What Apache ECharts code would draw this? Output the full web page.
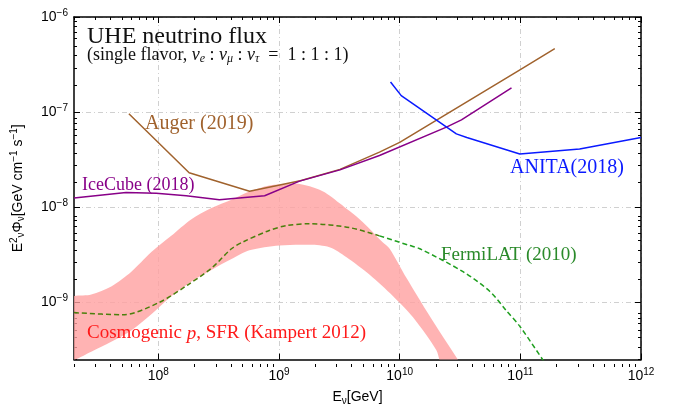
<!DOCTYPE html>
<html>
<head>
<meta charset="utf-8">
<script src="https://cdn.jsdelivr.net/npm/echarts@6/dist/echarts.min.js"></script>
<style>
html, body { margin: 0; padding: 0; background: #fff; }
#main { width: 679px; height: 411px; }
</style>
</head>
<body>
<div id="main"></div>
<script>
// values: [E (GeV), E^2 Phi (GeV cm^-2 s^-1)]
var auger = [[5.7e7, 9.6e-8], [1.8e8, 2.3e-8], [5.7e8, 1.47e-8], [1.5e9, 1.9e-8], [3.2e9, 2.5e-8],
	[6.8e9, 3.8e-8], [1e10, 4.8e-8], [1e11, 2.8e-7], [1.93e11, 4.65e-7]];
var iceCube = [[2e7, 1.25e-8], [5.4e7, 1.43e-8], [9.6e7, 1.4e-8], [1.7e8, 1.32e-8], [3.2e8, 1.2e-8],
	[7.6e8, 1.32e-8], [1.48e9, 1.88e-8], [3.2e9, 2.47e-8], [6.8e9, 3.5e-8], [2.44e10, 6.95e-8],
	[3.25e10, 8.3e-8], [8.45e10, 1.8e-7]];
var anita = [[8.4e9, 2.07e-7], [1.03e10, 1.49e-7], [2.95e10, 5.9e-8], [3.6e10, 5.4e-8], [9.9e10, 3.63e-8],
	[3.1e11, 4.1e-8], [1e12, 5.4e-8]];
var fermiLat = [[2e7, 7.8e-10], [5.06e7, 7.4e-10], [1.02e8, 1.0e-9], [1.76e8, 1.53e-9], [2.75e8, 2.28e-9],
	[4.04e8, 3.66e-9], [5e8, 4.3e-9], [8.3e8, 5.7e-9], [1.15e9, 6.4e-9], [1.79e9, 6.7e-9], [3.85e9, 6.1e-9],
	[6.8e9, 5.0e-9], [1.21e10, 3.96e-9], [1.47e10, 3.66e-9], [3.35e10, 2.1e-9], [5.6e10, 1.3e-9],
	[7.7e10, 8.1e-10], [1e11, 5.5e-10], [1.6e11, 2.3e-10]];
var fermiInBand = 6.8e9; // the dashed line leaves the pink band here
// cosmogenic band, upper and lower edges
var bandUpper = [[1.8e7, 1.08e-9], [2.78e7, 1.21e-9], [4.07e7, 1.47e-9], [5.97e7, 2.1e-9], [8.75e7, 3.38e-9],
	[1.28e8, 5.0e-9], [1.88e8, 7.47e-9], [2.75e8, 9.8e-9], [4.04e8, 1.2e-8], [5.69e8, 1.46e-8],
	[8.34e8, 1.69e-8], [1.22e9, 1.75e-8], [1.48e9, 1.75e-8], [2.17e9, 1.53e-8], [2.62e9, 1.33e-8],
	[3.18e9, 1.1e-8], [3.85e9, 9.1e-9], [4.93e9, 7.0e-9], [7.23e9, 4.28e-9], [8.26e9, 3.66e-9],
	[1.14e10, 1.8e-9], [1.67e10, 8.1e-10], [2.29e10, 4.33e-10], [3.05e10, 2.48e-10], [3.3e10, 2.0e-10]];
var bandLower = [[1.8e7, 2.5e-10], [2.78e7, 3.03e-10], [4.07e7, 3.84e-10], [5.97e7, 5.06e-10], [8.75e7, 7.5e-10],
	[1.28e8, 1.16e-9], [1.88e8, 1.66e-9], [2.75e8, 2.19e-9], [4.04e8, 2.85e-9], [5.69e8, 3.52e-9],
	[1.01e9, 3.96e-9], [1.79e9, 4.03e-9], [2.62e9, 3.8e-9], [3.6e9, 3.0e-9], [5.64e9, 1.95e-9],
	[8.82e9, 1.16e-9], [1.29e10, 6.95e-10], [2.01e10, 3.15e-10], [2.14e10, 2.47e-10], [2.3e10, 2.0e-10]];

var xTicks = [1e8, 1e9, 1e10, 1e11, 1e12];
var yTicks = [1e-9, 1e-8, 1e-7, 1e-6];
var xRange = [2e7, 1e12];
var yRange = [2.5e-10, 1e-6];

var serif = '"Liberation Serif", "DejaVu Serif", serif';
var sans = '"Liberation Sans", Arial, sans-serif';

// minor ticks at 2..9 of each decade
function minorTicks(range) {
	var out = [];
	for (var k = Math.floor(Math.log10(range[0])); k < Math.log10(range[1]); k++) {
		for (var m = 2; m <= 9; m++) {
			var v = m * Math.pow(10, k);
			if (v >= range[0] && v <= range[1]) out.push(v);
		}
	}
	return out;
}

function powLabel(v) {
	var e = Math.round(Math.log10(v));
	return '{b|10}{s|' + (e < 0 ? '\u2212' + (-e) : e) + '}';
}
var tickRich = {
	b: { fontFamily: sans, fontSize: 14, color: '#000', lineHeight: 18 },
	s: { fontFamily: sans, fontSize: 10, color: '#000', lineHeight: 10, padding: [0, 0, 8, 0] }
};
var gridLine = { show: true, lineStyle: { color: '#d0d0d0', width: 1, type: [5, 3, 1, 3] } };
var frame = { show: true, onZero: false, lineStyle: { color: '#000', width: 1.5 } };

function axis(dim, pos, gridIndex, ticks, len, main) {
	var a = {
		type: 'log',
		gridIndex: gridIndex,
		position: pos,
		min: dim == 'x' ? xRange[0] : yRange[0],
		max: dim == 'x' ? xRange[1] : yRange[1],
		axisLine: main ? frame : { show: false },
		axisTick: { show: true, inside: true, length: len, customValues: ticks, lineStyle: { color: '#000', width: 1 } },
		axisLabel: { show: false },
		splitLine: { show: false }
	};
	if (main && (pos == 'bottom' || pos == 'left')) {
		a.axisLabel = { show: true, customValues: ticks, formatter: powLabel, rich: tickRich, margin: dim == 'x' ? 8 : 6 };
		a.splitLine = gridLine;
	}
	return a;
}

var xMinor = minorTicks(xRange);
var yMinor = minorTicks(yRange);

var xAxes = [
	axis('x', 'bottom', 0, xTicks, 6, true),
	axis('x', 'top', 0, xTicks, 6, true),
	axis('x', 'bottom', 1, xMinor, 3, false),
	axis('x', 'top', 1, xMinor, 3, false)
];
var yAxes = [
	axis('y', 'left', 0, yTicks, 6, true),
	axis('y', 'right', 0, yTicks, 6, true),
	axis('y', 'left', 1, yMinor, 3, false),
	axis('y', 'right', 1, yMinor, 3, false)
];
xAxes[0].name = 'E{sub|\u03bd}[GeV]';
xAxes[0].nameLocation = 'middle';
xAxes[0].nameGap = 27;
xAxes[0].nameTextStyle = {
	fontFamily: sans, fontSize: 14, color: '#000',
	rich: { sub: { fontFamily: sans, fontSize: 10, color: '#000', padding: [7, 0, 0, 0] } }
};
yAxes[0].name = 'E{sup|2}{sub|\u03bd}\u03a6{sub|\u03bd}[GeV cm{sup|\u22121} s{sup|\u22121}]';
yAxes[0].nameLocation = 'middle';
yAxes[0].nameGap = 47;
yAxes[0].nameTextStyle = {
	fontFamily: sans, fontSize: 14, color: '#000',
	rich: {
		sup: { fontFamily: sans, fontSize: 10, color: '#000', padding: [0, 0, 8, 0] },
		sub: { fontFamily: sans, fontSize: 10, color: '#000', padding: [7, 0, 0, 0] }
	}
};

function lineSeries(name, data, color, z) {
	return {
		name: name, type: 'line', data: data, xAxisIndex: 0, yAxisIndex: 0,
		showSymbol: false, symbol: 'none', z: z,
		lineStyle: { color: color, width: 1.5 }
	};
}
function fermiSeries(data, color) {
	return {
		name: 'FermiLAT', type: 'line', data: data, showSymbol: false, symbol: 'none', smooth: 0.3, z: 3,
		lineStyle: { color: color, width: 1.5, type: [5, 3] }
	};
}

var grid = { left: 74, right: 38, top: 17, bottom: 44, containLabel: false };

var option = {
	animation: false,
	backgroundColor: '#fff',
	grid: [grid, grid],
	xAxis: xAxes,
	yAxis: yAxes,
	series: [
		{
			name: 'Cosmogenic', type: 'custom', data: bandUpper, z: 2,
			renderItem: function (params, api) {
				if (params.dataIndex !== 0) return;
				var pts = bandUpper.map(function (p) { return api.coord(p); })
					.concat(bandLower.slice().reverse().map(function (p) { return api.coord(p); }));
				var cs = params.coordSys;
				return {
					type: 'polygon',
					shape: { points: pts, smooth: 0.3 },
					style: { fill: 'rgba(255,160,160,0.8)' },
					clipPath: { type: 'rect', shape: { x: cs.x, y: cs.y, width: cs.width, height: cs.height } }
				};
			}
		},
		// the dashed line looks olive where it runs through the pink band
		fermiSeries(fermiLat.filter(function (p) { return p[0] <= fermiInBand; }), '#4b7f0c'),
		fermiSeries(fermiLat.filter(function (p) { return p[0] >= fermiInBand; }), '#1f9f1f'),
		lineSeries('Auger', auger, '#a0622d', 4),
		lineSeries('IceCube', iceCube, '#880088', 5),
		lineSeries('ANITA', anita, '#0a1aff', 5)
	],
	graphic: [
		{ type: 'text', z: 20, left: 87, top: 25, style: { text: 'UHE neutrino flux', font: '24px ' + serif, fill: '#111' } },
		{
			type: 'text', z: 20, left: 87, top: 46,
			style: {
				text: '(single flavor, {i|\u03bd}{sub|e} : {i|\u03bd}{sub|\u03bc} : {i|\u03bd}{sub|\u03c4}  =  1 : 1 : 1)',
				font: '18px ' + serif, fill: '#111',
				rich: {
					i: { fontFamily: serif, fontSize: 18, fontStyle: 'italic', fill: '#111' },
					sub: { fontFamily: serif, fontSize: 12, fontStyle: 'italic', fill: '#111', padding: [7, 0, 0, 0] }
				}
			}
		},
		{ type: 'text', z: 20, left: 145, top: 114, style: { text: 'Auger (2019)', font: '20px ' + serif, fill: '#a0622d' } },
		{ type: 'text', z: 20, left: 82, top: 176, style: { text: 'IceCube (2018)', font: '18px ' + serif, fill: '#880088' } },
		{ type: 'text', z: 20, left: 510, top: 158, style: { text: 'ANITA(2018)', font: '20px ' + serif, fill: '#0a1aff' } },
		{ type: 'text', z: 20, left: 441, top: 246, style: { text: 'FermiLAT (2010)', font: '19px ' + serif, fill: '#2a8a2a' } },
		{
			type: 'text', z: 20, left: 87, top: 324,
			style: {
				text: 'Cosmogenic {i|p}, SFR (Kampert 2012)', font: '19px ' + serif, fill: '#ff1a1a',
				rich: { i: { fontFamily: serif, fontSize: 19, fontStyle: 'italic', fill: '#ff1a1a' } }
			}
		}
	]
};

var myChart = echarts.init(document.getElementById('main'));
myChart.setOption(option);
</script>
</body>
</html>
